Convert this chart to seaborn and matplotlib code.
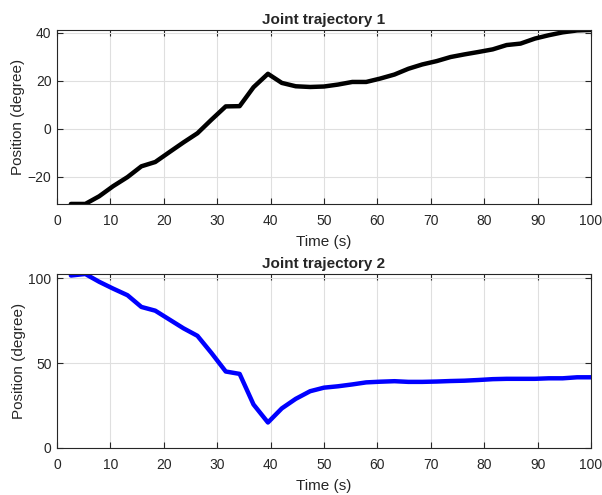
"""Two joint trajectories, MATLAB-style subplots."""

import matplotlib.pyplot as plt
import pandas as pd
import seaborn as sns

# DATA
time_s = [2.6, 5.3, 7.9, 10.5, 13.2, 15.8, 18.4, 21.1, 23.7, 26.3,
          28.9, 31.6, 34.2, 36.8, 39.5, 42.1, 44.7, 47.4, 50.0, 52.6,
          55.3, 57.9, 60.5, 63.2, 65.8, 68.4, 71.1, 73.7, 76.3, 78.9,
          81.6, 84.2, 86.8, 89.5, 92.1, 94.7, 97.4, 100.0]
joint1_deg = [-31.4, -31.4, -28.2, -24.0, -20.2, -15.7, -13.9, -9.7, -5.7, -1.9,
              3.7, 9.3, 9.4, 17.3, 22.9, 19.1, 17.7, 17.4, 17.6, 18.4,
              19.5, 19.5, 20.9, 22.6, 25.0, 26.8, 28.2, 29.9, 31.0, 32.0,
              33.1, 34.9, 35.5, 37.6, 39.0, 40.2, 41.0, 41.2]
joint2_deg = [101.5, 102.4, 97.8, 93.8, 89.9, 83.0, 80.8, 75.5, 70.4, 66.0,
              56.0, 45.0, 43.6, 25.6, 15.0, 23.3, 28.9, 33.4, 35.5, 36.3,
              37.4, 38.6, 39.0, 39.3, 38.9, 38.9, 39.1, 39.4, 39.6, 40.0,
              40.5, 40.7, 40.7, 40.7, 41.0, 41.0, 41.6, 41.6]
x_ticks = [0, 10, 20, 30, 40, 50, 60, 70, 80, 90, 100]
y1_ticks = [-20, 0, 20, 40]
y2_ticks = [0, 50, 100]

sns.set_theme(style="whitegrid")
plt.rcParams["font.family"] = ["Liberation Sans", "DejaVu Sans"]

df = pd.DataFrame({"Time": time_s, "J1": joint1_deg, "J2": joint2_deg})

fig = plt.figure(figsize=(6.02, 4.95), dpi=100)
ax1 = fig.add_axes([0.0947, 0.588, 0.887, 0.3515])
ax2 = fig.add_axes([0.0947, 0.095, 0.887, 0.3515])

panels = [
    (ax1, "J1", "black", "Joint trajectory 1", y1_ticks,
     (min(joint1_deg), max(joint1_deg))),
    (ax2, "J2", "blue", "Joint trajectory 2", y2_ticks,
     (0, max(joint2_deg))),
]

for ax, col, color, title, yticks, ylim in panels:
    sns.lineplot(data=df, x="Time", y=col, color=color, linewidth=3.2, ax=ax)
    ax.set_xlim(0, 100)
    ax.set_ylim(*ylim)
    ax.set_xticks(x_ticks)
    ax.set_yticks(yticks)
    ax.set_facecolor("white")
    ax.grid(True, color="#dfdfdf", linewidth=0.8)
    for spine in ax.spines.values():
        spine.set_color("#262626")
        spine.set_linewidth(0.8)
    ax.tick_params(direction="in", length=4, width=0.8, color="#262626",
                   labelsize=10, labelcolor="#262626",
                   top=True, right=True, bottom=True, left=True)
    ax.tick_params(axis="x", pad=7)
    ax.tick_params(axis="y", pad=4)
    ax.set_xlabel("Time (s)", fontsize=11, color="#262626", labelpad=5)
    ax.set_ylabel("Position (degree)", fontsize=11, color="#262626", labelpad=2)
    ax.set_title(title, fontsize=11, fontweight="bold", pad=4)

fig.savefig("out.png", dpi=100)
